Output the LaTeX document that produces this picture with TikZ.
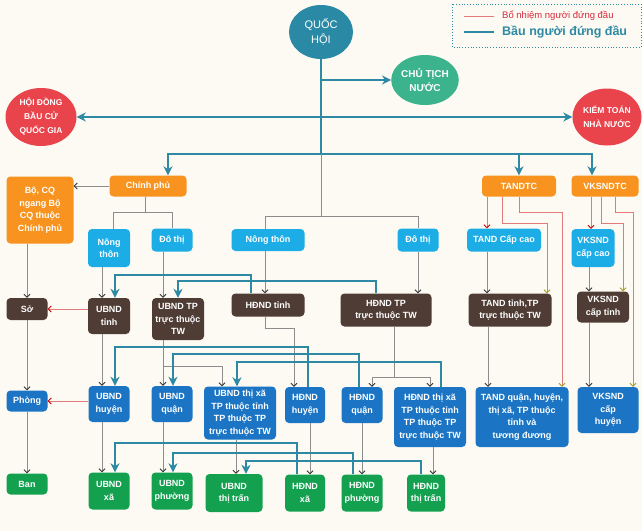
\documentclass[tikz,border=0pt]{standalone}
\usepackage{fontspec}
\setmainfont{Liberation Sans}
\usetikzlibrary{shapes.geometric,arrows.meta}

\definecolor{qhteal}{HTML}{2A8AA6}
\definecolor{ctngreen}{HTML}{3BB38C}
\definecolor{hdred}{HTML}{E9434B}
\definecolor{cporange}{HTML}{F7931E}
\definecolor{skyblue}{HTML}{1DADE6}
\definecolor{darkbrown}{HTML}{4F3D35}
\definecolor{midblue}{HTML}{1B75C4}
\definecolor{leafgreen}{HTML}{13A04F}
\definecolor{bauline}{HTML}{2E89A4}
\definecolor{greyline}{HTML}{8C8C8C}
\definecolor{bnline}{HTML}{E27A7C}
\definecolor{bnred}{HTML}{D8283A}
\definecolor{bgcream}{HTML}{FCFAF3}

\tikzset{
  sz/.style 2 args={minimum width=#1,minimum height=#2},
  oval/.style={ellipse,inner sep=0pt,text=white,align=center},
  box/.style={rounded corners=4pt,inner sep=1pt,text=white,align=center,
    font=\bfseries\fontsize{9}{12.5}\selectfont},
  orangebox/.style={box,fill=cporange},
  skybox/.style={box,fill=skyblue},
  brownbox/.style={box,fill=darkbrown},
  bluebox/.style={box,fill=midblue},
  greenbox/.style={box,fill=leafgreen},
  baul/.style={draw=bauline,line width=2.3pt},
  bau/.style={baul,-{Stealth[length=9pt,width=9pt]}},
  gline/.style={draw=greyline,line width=0.9pt},
  garr/.style={gline,-{Straight Barb[length=3pt,width=6pt,color=black!80]}},
  bn/.style={draw=bnline,line width=0.9pt,-{Straight Barb[length=3pt,width=6pt,color=red!75!black]}},
  bno/.style={bn,-{Straight Barb[length=3pt,width=6pt,color=olive!80]}}
}

\begin{document}
\begin{tikzpicture}[x=1pt,y=-1pt]
  \useasboundingbox (0,0) rectangle (642,531);
  \fill[bgcream] (0,0) rectangle (642,531);

  % legend
  \draw[bauline,dotted,line width=0.8pt] (452,4) rectangle (641,47);
  \node[anchor=west,inner sep=0pt,text=bnred,font=\fontsize{9.5}{11}\selectfont] (lgbn) at (502,16) {Bổ nhiệm người đứng đầu};
  \node[anchor=west,inner sep=0pt,text=bauline,font=\bfseries\fontsize{12.5}{14}\selectfont] (lgbau) at (502,32) {Bầu người đứng đầu};
  \draw[bnline,line width=0.9pt] ([xshift=-38]lgbn.west) -- ([xshift=-8]lgbn.west);
  \draw[baul] ([xshift=-38]lgbau.west) -- ([xshift=-8]lgbau.west);

  % top level
  \node[oval,fill=qhteal,sz={64}{54},font=\fontsize{11}{15}\selectfont] (qh) at (321,32) {QUỐC\\HỘI};
  \node[oval,fill=ctngreen,sz={64}{50},font=\bfseries\fontsize{10}{14}\selectfont] (ctn) at (425,80) {CHỦ TỊCH\\NƯỚC};
  \node[oval,fill=hdred,sz={71}{58},font=\bfseries\fontsize{8.5}{14}\selectfont] (hdbc) at (41,117) {HỘI ĐỒNG\\BẦU CỬ\\QUỐC GIA};
  \node[oval,fill=hdred,sz={69}{57},font=\bfseries\fontsize{8.5}{14}\selectfont] (ktnn) at (607,117) {KIỂM TOÁN\\NHÀ NƯỚC};

  \node[orangebox,sz={77}{21}] (cp) at (148,186) {Chính phủ};
  \node[orangebox,sz={67}{67}] (bo) at (40,210) {Bộ, CQ\\ngang Bộ\\CQ thuộc\\Chính phủ};
  \node[orangebox,sz={74}{21}] (tandtc) at (519,186) {TANDTC};
  \node[orangebox,sz={67}{21}] (vksndtc) at (605,186) {VKSNDTC};

  \node[skybox,sz={42}{38}] (nt1) at (109,248) {Nông\\thôn};
  \node[skybox,sz={41}{23}] (dt1) at (172,240) {Đô thị};
  \node[skybox,sz={73}{22}] (nt2) at (268,240) {Nông thôn};
  \node[skybox,sz={41}{23}] (dt2) at (418,240) {Đô thị};
  \node[skybox,sz={74}{23}] (tandcc) at (504,240) {TAND Cấp cao};
  \node[skybox,sz={43}{38}] (vkscc) at (593,248) {VKSND\\cấp cao};

  % province level
  \node[brownbox,sz={41}{22}] (so) at (27,309) {Sở};
  \node[brownbox,sz={42}{36}] (ubt) at (109,316) {UBND\\tỉnh};
  \node[brownbox,sz={52}{42}] (ubtp) at (178,319) {UBND TP\\trực thuộc\\TW};
  \node[brownbox,sz={73}{23}] (hdt) at (268,305) {HĐND tỉnh};
  \node[brownbox,sz={91}{33}] (hdtp) at (386,310) {HĐND TP\\trực thuộc TW};
  \node[brownbox,sz={83}{33}] (tandt) at (510,310) {TAND tỉnh,TP\\trực thuộc TW};
  \node[brownbox,sz={52}{31}] (vkst) at (603,307) {VKSND\\cấp tỉnh};

  % district level
  \node[bluebox,sz={41}{21}] (phong) at (27,401) {Phòng};
  \node[bluebox,sz={41}{36}] (ubh) at (109,404) {UBND\\huyện};
  \node[bluebox,sz={41}{36}] (ubq) at (172,404) {UBND\\quận};
  \node[bluebox,sz={72}{53}] (ubtx) at (240,413) {UBND thị xã\\TP thuộc tỉnh\\TP thuộc TP\\trực thuộc TW};
  \node[bluebox,sz={40}{36}] (hdh) at (305,405) {HĐND\\huyện};
  \node[bluebox,sz={41}{36}] (hdq) at (362,405) {HĐND\\quận};
  \node[bluebox,sz={72}{60}] (hdtx) at (430,417) {HĐND thị xã\\TP thuộc tỉnh\\TP thuộc TP\\trực thuộc TW};
  \node[bluebox,sz={93}{60}] (tandq) at (522,417) {TAND quận, huyện,\\thị xã, TP thuộc\\tỉnh và\\tương đương};
  \node[bluebox,sz={61}{46}] (vksh) at (608,410) {VKSND\\cấp\\huyện};

  % commune level
  \node[greenbox,sz={41}{21}] (ban) at (27,484) {Ban};
  \node[greenbox,sz={41}{37}] (ubx) at (109,491) {UBND\\xã};
  \node[greenbox,sz={41}{37}] (ubp) at (172,491) {UBND\\phường};
  \node[greenbox,sz={57}{38}] (ubtt) at (234,493) {UBND\\thị trấn};
  \node[greenbox,sz={40}{37}] (hdx) at (305,493) {HĐND\\xã};
  \node[greenbox,sz={41}{37}] (hdp) at (362,493) {HĐND\\phường};
  \node[greenbox,sz={38}{37}] (hdtt) at (426,493) {HĐND\\thị trấn};

  % Quoc hoi
  \coordinate (qhbus) at (321,154);
  \coordinate (nnbus) at (321,216);
  \draw[baul] (qh.south) -- (qhbus);
  \draw[bau] (qh.south |- ctn.west) -- (ctn.west);
  \draw[bau] (qh.south |- hdbc.east) -- (hdbc.east);
  \draw[bau] (qh.south |- ktnn.west) -- (ktnn.west);
  \draw[bau] (qhbus) -| ([xshift=20]cp.north);
  \draw[bau] (qhbus) -| (tandtc.north);
  \draw[bau] (tandtc.north |- qhbus) -| ([xshift=-13]vksndtc.north);
  \draw[gline] (qhbus) -- (nnbus);
  \draw[gline] (nnbus) -| ([xshift=-3]nt2.north);
  \draw[gline] (nnbus) -| (dt2.north);

  % Chinh phu
  \draw[garr] (cp.west) -- (cp.west -| bo.east);
  \draw[gline] ([xshift=-3]cp.south) -- ++(0,16) coordinate (cpj);
  \draw[gline] (cpj) -| ([xshift=4]nt1.north);
  \draw[gline] (cpj) -| (dt1.north);
  \draw[garr] (so.north |- bo.south) -- (so.north);
  \draw[garr] (so) -- (phong);
  \draw[garr] (phong) -- (ban);
  \draw[bn] (ubt.west |- so.east) -- (so.east);
  \draw[bn] (ubh.west |- phong.east) -- (phong.east);

  % grey chain
  \draw[garr] ([xshift=-7]ubt.north |- nt1.south) -- ([xshift=-7]ubt.north);
  \draw[garr] ([xshift=-15]ubtp.north |- dt1.south) -- ([xshift=-15]ubtp.north);
  \draw[garr] ([xshift=-3]nt2.south) -- ([xshift=-3]hdt.north);
  \draw[garr] (dt2.south) -- (dt2.south |- hdtp.north);
  \draw[garr] ([xshift=-7]ubt.south) -- ([xshift=-7]ubh.north);
  \draw[garr] ([xshift=-15]ubtp.south) -- ([xshift=-9]ubq.north);
  \draw[garr] ([xshift=-15]ubtp.south) ++(0,26) -| ([xshift=-18]ubtx.north);
  \draw[garr] ([xshift=-3]hdt.south) -- ++(0,12) -| ([xshift=-11]hdh.north);
  \draw[gline] ([xshift=8]hdtp.south) -- ++(0,51) coordinate (hdtpj);
  \draw[garr] (hdtpj) -| ([xshift=10]hdq.north);
  \draw[garr] (hdtpj) -| (hdtx.north);
  \draw[garr] ([xshift=-7]ubh.south) -- ([xshift=-7]ubx.north);
  \draw[garr] ([xshift=-9]ubq.south) -- ([xshift=-9]ubp.north);
  \draw[garr] ([xshift=-4]ubtx.south) -- ([xshift=-4]ubtx.south |- ubtt.north);
  \draw[garr] ([xshift=5]hdh.south) -- ([xshift=5]hdx.north);
  \draw[garr] (hdq) -- (hdp);
  \draw[garr] ([xshift=3]hdtx.south) -- ([xshift=3]hdtx.south |- hdtt.north);

  % courts and procuracy
  \draw[bn] ([xshift=-32]tandtc.south) -- ([xshift=-32]tandtc.south |- tandcc.north);
  \draw[bno] ([xshift=-17]tandtc.south) -- ++(0,27) -| ([xshift=37]tandt.north);
  \draw[bno] (tandtc.south) -- ++(0,16) -| ([xshift=40]tandq.north);
  \draw[bn] ([xshift=-14]vksndtc.south) -- ([xshift=-14]vksndtc.south |- vkscc.north);
  \draw[bno] ([xshift=-4]vksndtc.south) -- ++(0,27) -| ([xshift=20]vkst.north);
  \draw[bno] ([xshift=10]vksndtc.south) -- ++(0,16) -| ([xshift=25]vksh.north);
  \draw[garr] ([xshift=-23]tandt.north |- tandcc.south) -- ([xshift=-23]tandt.north);
  \draw[garr] ([xshift=-22]tandt.south) -- ([xshift=-34]tandq.north);
  \draw[garr] ([xshift=-14]vkst.north |- vkscc.south) -- ([xshift=-14]vkst.north);
  \draw[garr] ([xshift=-14]vkst.south) -- ([xshift=-19]vksh.north);

  % HDND elects UBND
  \draw[bau] ([xshift=-17]hdt.north) -- ++(0,-18) -| ([xshift=6]ubt.north);
  \draw[bau] ([xshift=-10]hdtp.north) -- ++(0,-12) -| (ubtp.north);
  \draw[bau] ([xshift=3]hdh.north) -- ++(0,-40) -| ([xshift=6]ubh.north);
  \draw[bau] ([xshift=-3]hdq.north) -- ++(0,-33) -| ([xshift=1]ubq.north);
  \draw[bau] ([xshift=11]hdtx.north) -- ++(0,-25) -| ([xshift=-3]ubtx.north);
  \draw[bau] ([xshift=-8]hdx.north) -- ++(0,-31) -| ([xshift=6]ubx.north);
  \draw[bau] ([xshift=-9]hdp.north) -- ++(0,-21) -| ([xshift=1]ubp.north);
  \draw[bau] ([xshift=-5]hdtt.north) -- ++(0,-13) -| ([xshift=12]ubtt.north);
\end{tikzpicture}
\end{document}
